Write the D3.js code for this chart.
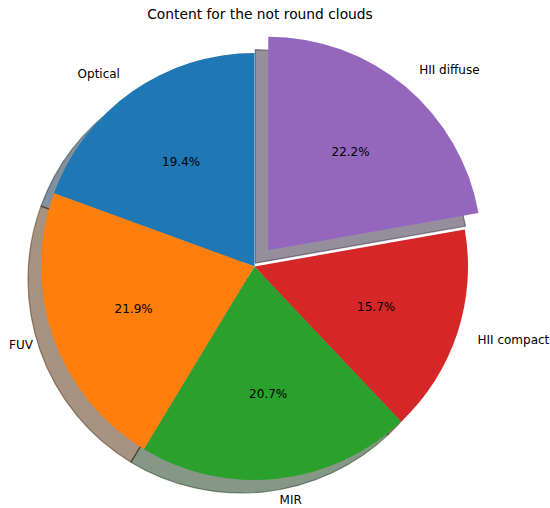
<!DOCTYPE html>
<html lang="en">
<head>
    <meta charset="UTF-8">
    <title>Content for the not round clouds</title>
    <style>
        body { margin: 0; background: #fff; }
        text { font-family: "DejaVu Sans", sans-serif; fill: #000; }
        .label { font-size: 12px; }
        .pct { font-size: 12px; text-anchor: middle; }
        .title { font-size: 13.8px; text-anchor: middle; }
    </style>
</head>
<body>
    <svg width="550" height="508"></svg>

    <script src="https://d3js.org/d3.v7.min.js"></script>
    <script>
        // Data
        const categories = ['Optical', 'FUV', 'MIR', 'HII compact', 'HII diffuse'];
        const shares = [19.4, 21.9, 20.7, 15.7, 22.2];
        const explode = [0, 0, 0, 0, 0.1];
        const colors = ['#1f77b4', '#ff7f0e', '#2ca02c', '#d62728', '#9467bd'];

        const svg = d3.select("svg");
        const cx = 254.5, cy = 266.5, r = 213.5;
        const shadowDx = -13, shadowDy = 13;

        const total = d3.sum(shares);
        // counterclockwise from 12 o'clock, like startangle=90
        const pie = d3.pie().sort(null).startAngle(0).endAngle(-2 * Math.PI);
        const arcs = pie(shares).map((d, i) => {
            const mid = (d.startAngle + d.endAngle) / 2;
            const off = explode[i] * r;
            return Object.assign(d, {
                name: categories[i], color: colors[i], mid: mid,
                ox: Math.sin(mid) * off, oy: -Math.cos(mid) * off
            });
        });

        const arc = d3.arc().innerRadius(0).outerRadius(r);

        function darker(c) {
            const rgb = d3.rgb(c);
            return d3.rgb(rgb.r * 0.3, rgb.g * 0.3, rgb.b * 0.3).toString();
        }

        const g = svg.append("g").attr("transform", `translate(${cx},${cy})`);

        // Shadows underneath all wedges
        g.append("g").selectAll("path")
            .data(arcs)
            .enter().append("path")
            .attr("d", arc)
            .attr("transform", d => `translate(${d.ox + shadowDx},${d.oy + shadowDy})`)
            .attr("fill", d => darker(d.color))
            .attr("fill-opacity", 0.5)
            .attr("stroke", d => darker(d.color))
            .attr("stroke-opacity", 0.5)
            .attr("stroke-width", 1.2)
            .attr("stroke-linejoin", "round");

        // Wedges
        g.append("g").selectAll("path")
            .data(arcs)
            .enter().append("path")
            .attr("d", arc)
            .attr("transform", d => `translate(${d.ox},${d.oy})`)
            .attr("fill", d => d.color);

        // Category labels at 1.1 r
        g.selectAll(".label")
            .data(arcs)
            .enter().append("text")
            .attr("class", "label")
            .attr("x", d => d.ox + Math.sin(d.mid) * r * 1.1)
            .attr("y", d => d.oy - Math.cos(d.mid) * r * 1.1)
            .attr("dy", "0.35em")
            .attr("text-anchor", d => Math.sin(d.mid) > 0 ? "start" : "end")
            .text(d => d.name);

        // Percent labels at 0.6 r
        g.selectAll(".pct")
            .data(arcs)
            .enter().append("text")
            .attr("class", "pct")
            .attr("x", d => d.ox + Math.sin(d.mid) * r * 0.6)
            .attr("y", d => d.oy - Math.cos(d.mid) * r * 0.6)
            .attr("dy", "0.35em")
            .text(d => (d.value / total * 100).toFixed(1) + "%");

        svg.append("text")
            .attr("class", "title")
            .attr("x", 260)
            .attr("y", 18.5)
            .text("Content for the not round clouds");
    </script>
</body>
</html>
